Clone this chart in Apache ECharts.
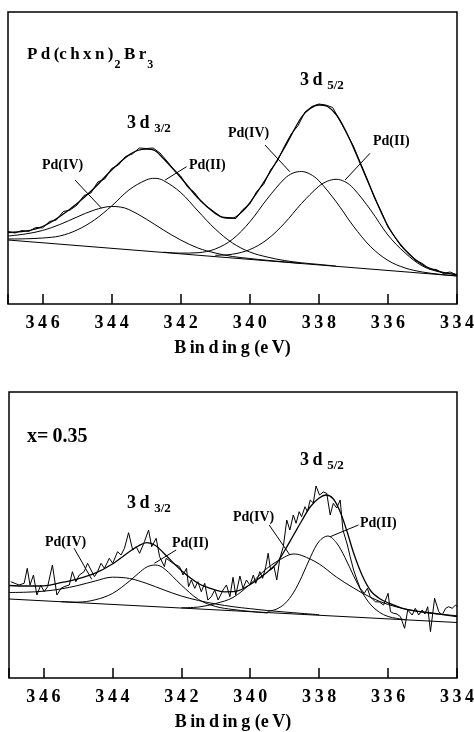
<!DOCTYPE html>
<html>
<head>
<meta charset="utf-8">
<script src="https://cdn.jsdelivr.net/npm/echarts@6/dist/echarts.min.js"></script>
<style>
  html, body { margin: 0; padding: 0; background: #fff; }
  #chart { width: 474px; height: 732px; }
</style>
</head>
<body>
<div id="chart"></div>
<script>
// ---------- Pd 3d XPS spectra: Pd(chxn)2Br3 (upper) and x = 0.35 (lower) ----------
// Binding energies in eV, intensities in arbitrary units.

// Upper panel
const topBaseEV = [347, 334];
const topBase = [64, 28];
const topPd4_32EV = [347, 346.5, 346, 345.5, 345, 344.5, 344, 343.75, 343.5, 343, 342.5, 342, 341.5, 341,
  340.5, 340, 339.5, 339, 338.5];
const topPd4_32 = [68, 70, 73.5, 79.5, 87, 94, 97.5, 97, 94.5, 85, 74, 64, 56, 51, 47.5, 45.5, 43.7, 42.2, 40.6];
const topPd2_32EV = [347, 346.5, 346, 345.5, 345, 344.5, 344, 343.5, 343, 342.75, 342.5, 342, 341.5, 341,
  340.5, 340, 339.5, 339, 338.5, 338, 337.5];
const topPd2_32 = [65, 65.2, 66, 68, 74, 84, 98, 114, 124, 125.7, 123.5, 111.5, 93, 75, 61, 52, 47, 43.5, 41.2,
  39.6, 37.9];
const topPd4_52EV = [342.5, 342, 341.5, 341, 340.5, 340, 339.5, 339, 338.75, 338.5, 338.25, 338, 337.5, 337,
  336.5, 336, 335.5, 335, 334.5, 334];
const topPd4_52 = [51.8, 50.9, 51.3, 55, 64.7, 82.1, 104.9, 125.1, 130.9, 132.5, 129.8, 123.3, 102.3, 77.9,
  57.3, 43.6, 36, 32, 29.7, 28.1];
const topPd2_52EV = [341, 340.5, 340, 339.5, 339, 338.5, 338, 337.75, 337.5, 337.25, 337, 336.5, 336, 335.5,
  335, 334.5, 334];
const topPd2_52 = [48.7, 49.8, 54.4, 64.4, 80.6, 100.6, 117.7, 122.8, 124.7, 122.4, 115.7, 94, 69, 51, 38, 32,
  29.5];
const topFitEV = [347, 346.5, 346, 345.5, 345, 344.5, 344, 343.5, 343.25, 343, 342.75, 342.5, 342, 341.5, 341,
  340.75, 340.5, 340.25, 340, 339.5, 339, 338.5, 338.25, 338, 337.75, 337.5, 337.25, 337, 336.5, 336, 335.5,
  335, 334.5, 334];
const topFit = [71.5, 72.8, 77.5, 87.5, 100.5, 116, 134, 149, 153.5, 155, 153.5, 145.5, 126.5, 106, 90.5,
  86.5, 86, 91.5, 101, 127, 156, 187, 195.5, 199, 197.5, 189.5, 175, 156.5, 116, 78, 54, 39.3, 32.5, 29.2];
const topScanEV = [347, 346.8, 346.6, 346.4, 346.2, 346, 345.8, 345.6, 345.4, 345.2, 345, 344.8, 344.6, 344.4,
  344.2, 344, 343.8, 343.6, 343.4, 343.2, 343, 342.8, 342.6, 342.4, 342.2, 342, 341.8, 341.6, 341.4, 341.2,
  341, 340.8, 340.6, 340.4, 340.2, 340, 339.8, 339.6, 339.4, 339.2, 339, 338.8, 338.6, 338.4, 338.2, 338,
  337.8, 337.6, 337.4, 337.2, 337, 336.8, 336.6, 336.4, 336.2, 336, 335.8, 335.6, 335.4, 335.2, 335, 334.8,
  334.6, 334.4, 334.2, 334];
const topScan = [72.5, 71, 73.5, 72.5, 76.5, 76, 82.5, 84, 92.5, 94, 99, 108.5, 111, 122, 125, 135.5, 139,
  147.5, 150, 156, 155.5, 156, 151, 143, 134.5, 128, 117, 111.5, 102, 96.5, 91.5, 86.5, 86, 85.5, 94.5, 100,
  112.5, 119.5, 134, 143, 157.5, 170, 178.5, 192, 197.5, 200, 199, 196.5, 184, 171, 158, 141.5, 125, 107, 93,
  77, 67, 57, 50.5, 43.5, 40.5, 35, 34.5, 30.5, 32, 29];
// leader lines: [eV from, intensity from, eV to, intensity to]
const topLeaders = [[345.06, 124, 344.29, 95.7], [341.83, 137.3, 342.45, 124],
  [339.56, 159, 338.84, 132.3], [336.52, 150.7, 337.24, 124]];

// Lower panel
const botBaseEV = [347, 334];
const botBase = [79, 55.5];
const botPd4_32EV = [347, 346.5, 346, 345.5, 345, 344.5, 344, 343.5, 343, 342.5, 342, 341.5, 341, 340.5, 340,
  339.5, 339, 338.5, 338];
const botPd4_32 = [85.5, 85.8, 86.8, 89, 92.5, 97, 100.8, 99.5, 94.5, 88, 82, 77.5, 74, 71.3, 69.3, 67.5, 66,
  64.6, 63.3];
const botPd2_32EV = [345.5, 345, 344.5, 344, 343.5, 343.25, 343, 342.75, 342.5, 342, 341.5, 341, 340.5, 340,
  339.5];
const botPd2_32 = [76.4, 75.9, 78.2, 84.5, 97, 104.5, 111, 113, 109.5, 93, 78.5, 71.5, 68.5, 66.6, 65];
const botPd4_52EV = [342, 341.5, 341, 340.5, 340, 339.5, 339, 338.75, 338.5, 338, 337.5, 337, 336.5, 336, 335.5,
  335, 334.5, 334];
const botPd4_52 = [70.2, 71, 74.5, 80.5, 94, 110, 121, 124, 122.5, 114, 101, 90, 80.5, 73.5, 69, 65.8, 63.8,
  62.3];
const botPd2_52EV = [339.5, 339.25, 339, 338.75, 338.5, 338.25, 338, 337.75, 337.5, 337.25, 337, 336.75,
  336.5, 336.25, 336, 335.75, 335.5];
const botPd2_52 = [66.6, 68.7, 74.2, 85.1, 101.6, 121.1, 136.7, 142, 135.3, 120.4, 102.1, 85.5, 73.2, 65.7,
  61.5, 59.6, 58.3];
const botFitEV = [347, 346.5, 346, 345.5, 345, 344.5, 344, 343.5, 343.25, 343, 342.75, 342.5, 342, 341.5, 341,
  340.75, 340.5, 340.25, 340, 339.75, 339.5, 339.25, 339, 338.75, 338.5, 338.25, 338, 337.8, 337.6, 337.4,
  337.2, 337, 336.75, 336.5, 336.25, 336, 335.5, 335, 334.5, 334];
const botFit = [92.5, 92, 92.2, 95.3, 99.2, 104.8, 114, 126.5, 132, 135.3, 132.5, 124.5, 107.5, 94.5, 87.8,
  86.2, 86.3, 88.5, 93.5, 99.5, 106, 114, 127.5, 142.5, 157.5, 171.5, 180, 183, 179.5, 167, 147.5, 125, 102.5,
  87, 79.5, 75.2, 68.8, 66.2, 63.8, 61.3];
const botScanEV = [346.95, 346.71, 346.56, 346.47, 346.39, 346.29, 346.19, 346.08, 345.98, 345.88, 345.74,
  345.61, 345.49, 345.40, 345.25, 345.16, 345.06, 344.96, 344.82, 344.72, 344.52, 344.43, 344.33, 344.23,
  344.09, 343.99, 343.85, 343.75, 343.65, 343.53, 343.41, 343.31, 343.21, 343.07, 342.95, 342.86, 342.73,
  342.63, 342.49, 342.44, 342.24, 342.05, 341.95, 341.85, 341.79, 341.71, 341.61, 341.52, 341.42, 341.32,
  341.23, 341.13, 341.03, 340.93, 340.79, 340.69, 340.59, 340.50, 340.42, 340.30, 340.21, 340.11, 340.01,
  339.91, 339.84, 339.72, 339.64, 339.55, 339.48, 339.41, 339.31, 339.23, 339.14, 339.04, 338.94, 338.85,
  338.75, 338.67, 338.58, 338.51, 338.41, 338.34, 338.26, 338.17, 338.09, 337.99, 337.88, 337.78, 337.68,
  337.59, 337.49, 337.39, 337.31, 337.18, 337.10, 337.00, 336.90, 336.81, 336.69, 336.60, 336.52, 336.37,
  336.25, 336.13, 336.00, 335.93, 335.84, 335.74, 335.64, 335.52, 335.43, 335.30, 335.21, 335.11, 335.01,
  334.93, 334.85, 334.77, 334.65, 334.53, 334.43, 334.33, 334.24, 334.14, 334.04, 334.00];
const botScan = [96.3, 93, 94.7, 109.7, 93, 103, 83, 93, 86.3, 91.3, 113, 83, 89.7, 91.3, 93, 106.3, 96.3, 103,
  106.3, 114.7, 101.3, 106.3, 114.7, 109.7, 119.7, 114.7, 126.3, 123, 129.7, 145.3, 128, 131.3, 124.7, 136.3,
  148, 131.3, 139.7, 121.3, 111.3, 119.7, 114.7, 111.3, 103, 109.7, 91.3, 98, 89.7, 96.3, 86.3, 94.7, 78, 81.3,
  88, 78, 88, 93, 81.3, 100.7, 83, 102, 89.7, 98, 93, 103, 94.7, 106.3, 99.7, 111.3, 124.7, 108, 111.3, 98,
  119.7, 131.3, 158, 148, 163, 154.7, 166.3, 161.3, 171.3, 166.3, 178, 175, 192, 183, 186, 184.7, 163, 174.7,
  170, 178, 148, 133, 121.3, 108, 98, 89.7, 84.7, 89.7, 81.3, 76.3, 76, 73, 84.7, 66.3, 64.7, 64, 61.3, 49.7,
  68, 63, 69.7, 63, 68, 64, 71.3, 46.3, 79.7, 66.3, 63, 69.7, 71.3, 69.7, 73, 71.3];
const botLeaders = [[345.11, 129.7, 344.6, 98.7], [342.15, 128, 342.78, 114.7],
  [339.45, 153, 338.85, 123], [336.86, 153, 337.68, 141.3]];

// Axis settings
const evMin = 334, evMax = 347, evStep = 2;
const axisTitle = 'B\u2009in\u2009d\u2009in\u2009g (e\u2009V)';

// ---------- chart ----------
const SERIF = '"Liberation Serif", "Times New Roman", Times, serif';
const INK = '#000';

function pairs(xs, ys) {
  const out = [];
  const n = Math.min(xs.length, ys.length);
  for (let i = 0; i < n; i++) if (ys[i] != null) out.push([xs[i], ys[i]]);
  return out;
}

function curve(gi, xs, ys, width, smooth, leaders) {
  const s = {
    type: 'line', xAxisIndex: gi, yAxisIndex: gi,
    data: pairs(xs, ys), showSymbol: false, symbol: 'none',
    smooth: smooth ? 0.35 : false, silent: true, animation: false,
    lineStyle: { color: INK, width: width }
  };
  if (leaders) {
    s.markLine = {
      silent: true, symbol: ['none', 'none'], animation: false,
      label: { show: false },
      lineStyle: { color: INK, width: 1, type: 'solid' },
      data: leaders.map(l => [{ coord: [l[0], l[1]] }, { coord: [l[2], l[3]] }])
    };
  }
  return s;
}

function xAxisFor(gi, nameGap) {
  return {
    gridIndex: gi, type: 'value', min: evMin, max: evMax, interval: evStep, inverse: true,
    axisLine: { show: false },
    splitLine: { show: false },
    axisTick: { show: true, inside: true, length: 10, lineStyle: { color: INK, width: 1.5 } },
    axisLabel: {
      margin: 10, color: INK, fontFamily: SERIF, fontWeight: 'bold', fontSize: 18,
      formatter: v => (v % evStep === 0 ? String(v).split('').join('\u2009') : '')
    },
    name: axisTitle, nameLocation: 'middle', nameGap: nameGap,
    nameTextStyle: { color: INK, fontFamily: SERIF, fontWeight: 'bold', fontSize: 18 }
  };
}

function yAxisFor(gi, top) {
  return { gridIndex: gi, type: 'value', min: 0, max: top, show: false };
}

function plain(text, x, y, size) {
  return {
    type: 'text', x: x, y: y, silent: true,
    style: { text: text, fill: INK, font: 'bold ' + size + 'px ' + SERIF, align: 'left', verticalAlign: 'middle' }
  };
}

function withSub(main, sub, x, y, mainSize, subSize, drop) {
  return {
    type: 'text', x: x, y: y, silent: true,
    style: {
      text: main.map((m, i) => '{m|' + m + '}' + (sub[i] ? '{s|' + sub[i] + '}' : '')).join(''),
      align: 'left', verticalAlign: 'middle',
      rich: {
        m: { fill: INK, fontFamily: SERIF, fontWeight: 'bold', fontSize: mainSize, lineHeight: mainSize },
        s: { fill: INK, fontFamily: SERIF, fontWeight: 'bold', fontSize: subSize, lineHeight: subSize,
             verticalAlign: 'top', padding: [drop, 0, 0, 1] }
      }
    }
  };
}

const chart = echarts.init(document.getElementById('chart'), null, { renderer: 'canvas' });

chart.setOption({
  backgroundColor: '#fff',
  animation: false,
  grid: [
    { left: 8, right: 17, top: 12, bottom: 428, show: true, borderColor: INK, borderWidth: 1.5,
      backgroundColor: 'transparent', containLabel: false, outerBoundsMode: 'none' },
    { left: 9, right: 17, top: 392, bottom: 54, show: true, borderColor: INK, borderWidth: 1.5,
      backgroundColor: 'transparent', containLabel: false, outerBoundsMode: 'none' }
  ],
  xAxis: [xAxisFor(0, 35), xAxisFor(1, 35)],
  yAxis: [yAxisFor(0, 292), yAxisFor(1, 286)],
  series: [
    curve(0, topBaseEV, topBase, 1.2, false, topLeaders),
    curve(0, topPd4_32EV, topPd4_32, 1, true),
    curve(0, topPd2_32EV, topPd2_32, 1, true),
    curve(0, topPd4_52EV, topPd4_52, 1, true),
    curve(0, topPd2_52EV, topPd2_52, 1, true),
    curve(0, topFitEV, topFit, 1.3, true),
    curve(0, topScanEV, topScan, 1, false),

    curve(1, botBaseEV, botBase, 1.2, false, botLeaders),
    curve(1, botPd4_32EV, botPd4_32, 1, true),
    curve(1, botPd2_32EV, botPd2_32, 1, true),
    curve(1, botPd4_52EV, botPd4_52, 1, true),
    curve(1, botPd2_52EV, botPd2_52, 1, true),
    curve(1, botFitEV, botFit, 1.3, true),
    curve(1, botScanEV, botScan, 1, false)
  ],
  graphic: [
    // upper panel annotations
    withSub(['P\u2009d\u2009(c\u2009h\u2009x\u2009n\u2009)', '\u2009B\u2009r'], ['2', '3'], 27, 55, 17, 12, 12),
    withSub(['3\u2009d\u2009'], ['3/2'], 127, 123, 18, 13, 8),
    withSub(['3\u2009d\u2009'], ['5/2'], 300, 80, 18, 13, 8),
    plain('Pd(IV)', 42, 165, 14),
    plain('Pd(II)', 189, 165, 14),
    plain('Pd(IV)', 228, 133, 14),
    plain('Pd(II)', 373, 141.5, 14),
    // lower panel annotations
    plain('x=\u20090.35', 27, 437, 20),
    withSub(['3\u2009d\u2009'], ['3/2'], 127, 503, 18, 13, 8),
    withSub(['3\u2009d\u2009'], ['5/2'], 300, 460, 18, 13, 8),
    plain('Pd(IV)', 45, 542.5, 14),
    plain('Pd(II)', 172, 543, 14),
    plain('Pd(IV)', 233, 517, 14),
    plain('Pd(II)', 360, 523, 14)
  ]
});
</script>
</body>
</html>
